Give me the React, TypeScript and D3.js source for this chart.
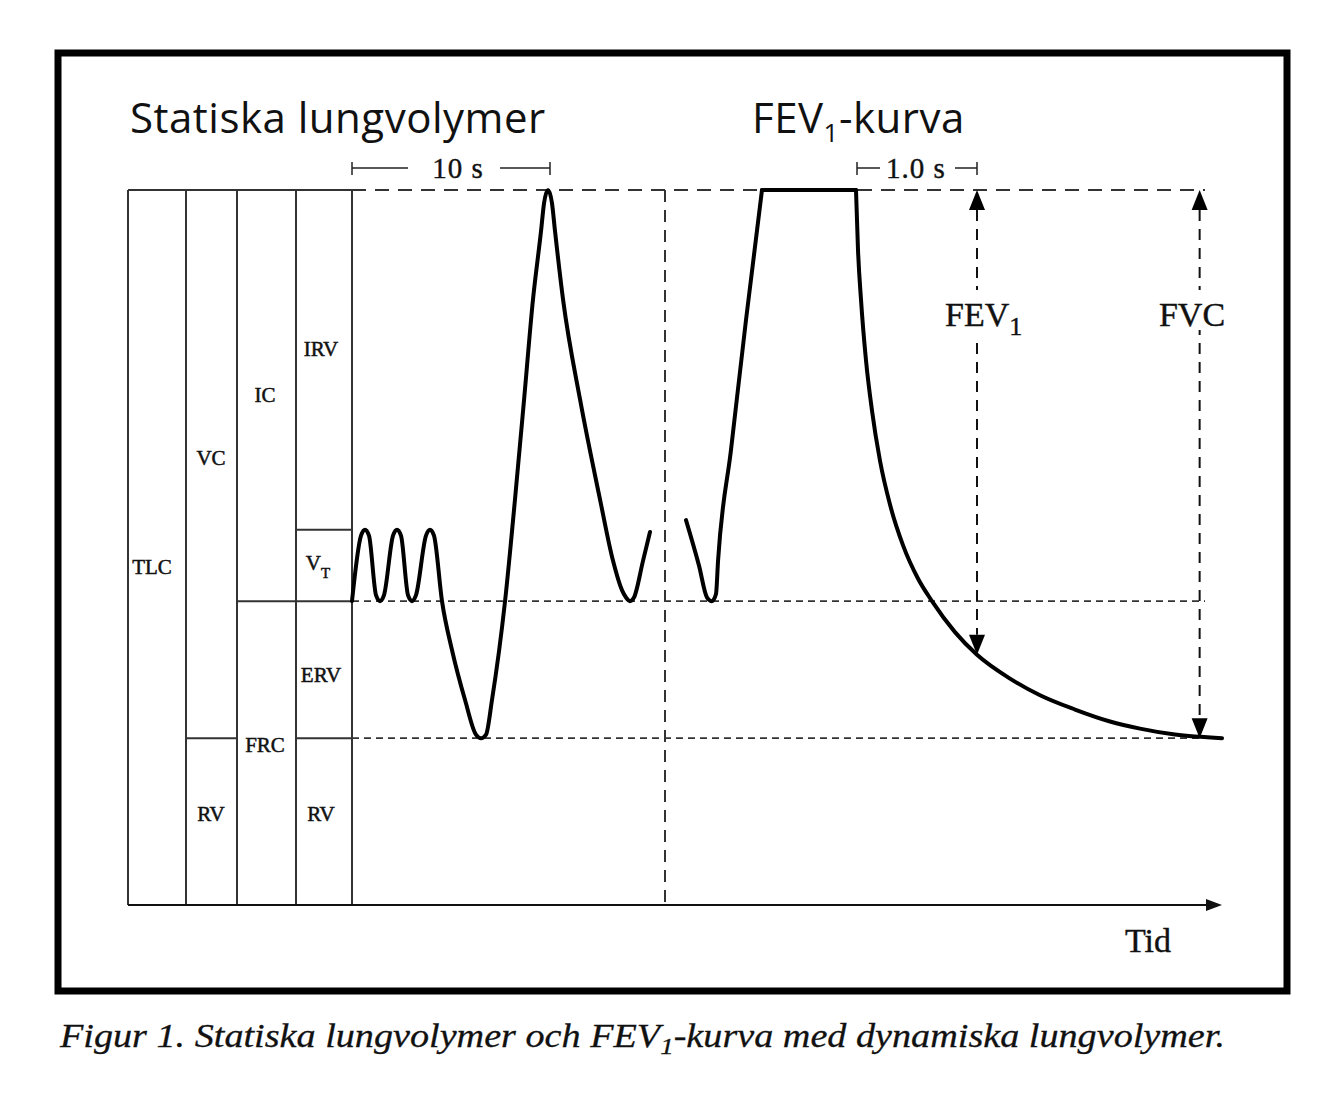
import React from 'react';
import * as d3 from 'd3';

const W = 1334;
const H = 1102;

// volume levels (litres)
const levelNames = ['RV', 'FRC', 'VT', 'TLC'];
const levelVolumes = [1.4, 2.55, 3.15, 6.0];

// quiet breathing + vital capacity manoeuvre (s, litres)
const spiroTime = [
  0, 0.455, 0.657, 0.859, 1.212, 1.414, 1.616, 2.071, 2.273, 2.475, 2.828, 3.03, 3.232, 3.737, 3.94, 4.141,
  4.545, 5.05, 5.71, 6.26, 6.52, 6.77, 7.07, 7.73, 8.23, 8.69, 9.14, 9.55, 9.7, 9.9, 10.1, 10.25, 10.66,
  11.52, 12.53, 13.18, 13.64, 13.84, 14.04, 14.24, 14.7, 15.05,
];
const spiroVolume = [
  2.55, 3.1, 3.15, 3.1, 2.6, 2.55, 2.6, 3.1, 3.15, 3.1, 2.6, 2.55, 2.6, 3.1, 3.15, 3.1,
  2.55, 2.14, 1.72, 1.43, 1.4, 1.43, 1.72, 2.55, 3.4, 4.24, 5.08, 5.66, 5.89, 6.0, 5.89, 5.66, 5.08,
  4.24, 3.4, 2.89, 2.64, 2.58, 2.55, 2.58, 2.89, 3.13,
];

// FEV1 curve: inspiration, hold, forced expiration (s, litres)
const fevInTime = [-1.405, -1.298, -1.231, -1.19, -1.157, -1.14, -1.033, -0.909, -0.777];
const fevInVolume = [3.23, 2.85, 2.58, 2.55, 2.61, 2.89, 3.82, 4.91, 6.0];
const holdTime = [-0.777, 0];
const fevOutTime = [
  0, 0.0165, 0.0413, 0.0826, 0.132, 0.198, 0.281, 0.388, 0.512, 0.628, 0.818, 1.0, 1.273, 1.521, 1.81,
  2.099, 2.347, 2.636, 3.025,
];
const fevOutVolume = [
  6.0, 5.5, 5.08, 4.57, 4.15, 3.73, 3.36, 3.02, 2.74, 2.55, 2.29, 2.1, 1.9, 1.76, 1.64, 1.54, 1.48, 1.43,
  1.4,
];

const fev1Time = 1.0;
const fvcTime = 2.84;

const level = (name: string) => levelVolumes[levelNames.indexOf(name)];

export default function App() {
  const y = d3.scaleLinear().domain([0, 6]).range([905, 190]);
  const xSpiro = d3.scaleLinear().domain([0, 10]).range([352, 550]);
  const xFev = d3.scaleLinear().domain([0, 1]).range([856, 977]);

  const cols = [128, 186, 237, 296, 352];
  const dashRight = 1205;

  const lineFor = (x: d3.ScaleLinear<number, number>, times: number[]) =>
    d3
      .line<number>()
      .x((d, i) => x(times[i]))
      .y((d) => y(d))
      .curve(d3.curveMonotoneX);

  const arrowHead = (x: number, tipY: number, up: boolean) => {
    const h = up ? 20 : -20;
    return `M${x},${tipY} L${x - 8},${tipY + h} L${x + 8},${tipY + h} Z`;
  };

  const serif = '"Liberation Serif", "Times New Roman", serif';
  const sans = '"Open Sans", "Noto Sans", sans-serif';
  const thin = '#333';

  const fev1X = xFev(fev1Time);
  const fvcX = xFev(fvcTime);
  const fev1Vol = fevOutVolume[fevOutTime.indexOf(fev1Time)];

  return (
    <svg
      width={W}
      height={H}
      style={{ position: 'absolute', left: 0, top: 0, background: '#fff' }}
    >
      {/* outer frame */}
      <rect x={58} y={53} width={1229} height={938} fill="none" stroke="#000" strokeWidth={7} />

      {/* titles */}
      <text x={130} y={133} fontFamily={sans} fontSize={42} letterSpacing={0.5} fill="#111">
        Statiska lungvolymer
      </text>
      <text x={752} y={133} fontFamily={sans} fontSize={42} letterSpacing={0.5} fill="#111">
        FEV<tspan fontSize={26} dy={9}>1</tspan>
        <tspan dy={-9}>-kurva</tspan>
      </text>

      {/* time brackets */}
      <g stroke="#222" strokeWidth={1.5}>
        <line x1={xSpiro(0)} x2={xSpiro(0)} y1={162} y2={175} />
        <line x1={xSpiro(0)} x2={408} y1={168} y2={168} />
        <line x1={500} x2={xSpiro(10)} y1={168} y2={168} />
        <line x1={xSpiro(10)} x2={xSpiro(10)} y1={162} y2={175} />
        <line x1={xFev(0) + 1} x2={xFev(0) + 1} y1={162} y2={175} />
        <line x1={xFev(0) + 1} x2={880} y1={168} y2={168} />
        <line x1={955} x2={xFev(1)} y1={168} y2={168} />
        <line x1={xFev(1)} x2={xFev(1)} y1={162} y2={175} />
      </g>
      <g fontFamily={serif} fontSize={29} fill="#111" stroke="#111" strokeWidth={0.4} textAnchor="middle">
        <text x={458} y={178} letterSpacing={1}>10 s</text>
        <text x={916} y={178} letterSpacing={1}>1.0 s</text>
      </g>

      {/* table of static volumes */}
      <g stroke={thin} strokeWidth={2} fill="none">
        <line x1={cols[0]} x2={cols[4]} y1={y(level('TLC'))} y2={y(level('TLC'))} />
        {cols.map((c) => (
          <line key={c} x1={c} x2={c} y1={y(level('TLC'))} y2={y(0)} />
        ))}
        <line x1={cols[1]} x2={cols[2]} y1={y(level('RV'))} y2={y(level('RV'))} />
        <line x1={cols[2]} x2={cols[4]} y1={y(level('FRC'))} y2={y(level('FRC'))} />
        <line x1={cols[3]} x2={cols[4]} y1={y(level('VT'))} y2={y(level('VT'))} />
        <line x1={cols[3]} x2={cols[4]} y1={y(level('RV'))} y2={y(level('RV'))} />
      </g>
      <g fontFamily={serif} fontSize={21} fill="#111" stroke="#111" strokeWidth={0.5} textAnchor="middle">
        <text x={152} y={574}>TLC</text>
        <text x={211} y={465}>VC</text>
        <text x={265} y={402}>IC</text>
        <text x={321} y={356}>IRV</text>
        <text x={318} y={570}>
          V<tspan fontSize={15} dy={8}>T</tspan>
        </text>
        <text x={321} y={682}>ERV</text>
        <text x={265} y={752}>FRC</text>
        <text x={211} y={821}>RV</text>
        <text x={321} y={821}>RV</text>
      </g>

      {/* dashed reference lines */}
      <line
        x1={cols[4]}
        x2={dashRight}
        y1={y(level('TLC'))}
        y2={y(level('TLC'))}
        stroke="#333"
        strokeWidth={1.8}
        strokeDasharray="14 9"
      />
      <line
        x1={cols[4]}
        x2={dashRight}
        y1={y(level('FRC'))}
        y2={y(level('FRC'))}
        stroke="#333"
        strokeWidth={1.8}
        strokeDasharray="7 5"
      />
      <line
        x1={cols[4]}
        x2={dashRight}
        y1={y(level('RV'))}
        y2={y(level('RV'))}
        stroke="#333"
        strokeWidth={1.8}
        strokeDasharray="7 5"
      />
      <line x1={665} x2={665} y1={y(level('TLC'))} y2={y(0)} stroke="#333" strokeWidth={2} strokeDasharray="12 8" />

      {/* time axis */}
      <line x1={cols[0]} x2={1210} y1={y(0)} y2={y(0)} stroke="#111" strokeWidth={2} />
      <path d={`M1222,${y(0)} L1206,${y(0) - 6} L1206,${y(0) + 6} Z`} fill="#111" />
      <text x={1148} y={952} textAnchor="middle" fontFamily={serif} fontSize={34} fill="#111" stroke="#111" strokeWidth={0.4}>
        Tid
      </text>

      {/* traces */}
      <g fill="none" stroke="#000" strokeWidth={4} strokeLinejoin="round" strokeLinecap="round">
        <path d={lineFor(xSpiro, spiroTime)(spiroVolume) || ''} />
        <path d={lineFor(xFev, fevInTime)(fevInVolume) || ''} />
        <line x1={xFev(holdTime[0])} x2={xFev(holdTime[1])} y1={y(level('TLC'))} y2={y(level('TLC'))} />
        <path d={lineFor(xFev, fevOutTime)(fevOutVolume) || ''} />
      </g>

      {/* FEV1 and FVC arrows */}
      <g stroke="#111" strokeWidth={2} strokeDasharray="11 8">
        <line x1={fev1X} x2={fev1X} y1={y(level('TLC')) + 20} y2={y(fev1Vol) - 20} />
        <line x1={fvcX} x2={fvcX} y1={y(level('TLC')) + 20} y2={y(level('RV')) - 20} />
      </g>
      <g fill="#000">
        <path d={arrowHead(fev1X, y(level('TLC')), true)} />
        <path d={arrowHead(fev1X, y(fev1Vol), false)} />
        <path d={arrowHead(fvcX, y(level('TLC')), true)} />
        <path d={arrowHead(fvcX, y(level('RV')), false)} />
      </g>
      <rect x={940} y={290} width={85} height={50} fill="#fff" />
      <rect x={1155} y={290} width={75} height={40} fill="#fff" />
      <g fontFamily={serif} fontSize={34} fill="#111" stroke="#111" strokeWidth={0.4}>
        <text x={945} y={326}>
          FEV<tspan fontSize={26} dy={9}>1</tspan>
        </text>
        <text x={1192} y={326} textAnchor="middle">
          FVC
        </text>
      </g>

      {/* caption */}
      <text
        x={60}
        y={1047}
        fontFamily={serif}
        fontStyle="italic"
        fontSize={34}
        fill="#111"
        stroke="#111"
        strokeWidth={0.3}
        textLength={1165}
        lengthAdjust="spacingAndGlyphs"
      >
        Figur 1. Statiska lungvolymer och FEV<tspan fontSize={24} dy={7}>1</tspan>
        <tspan dy={-7}>-kurva med dynamiska lungvolymer.</tspan>
      </text>
    </svg>
  );
}
